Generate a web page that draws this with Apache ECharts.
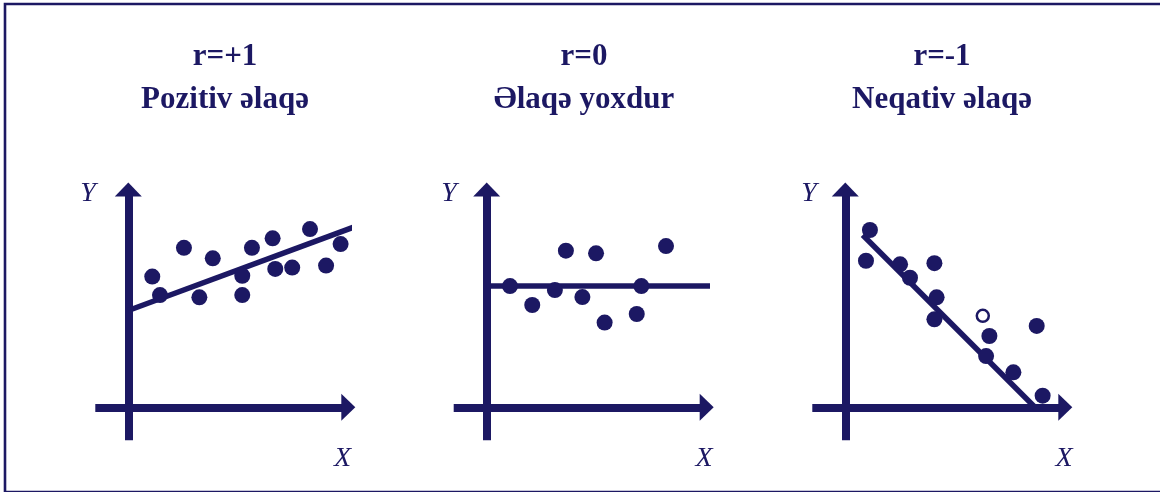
<!DOCTYPE html>
<html><head><meta charset="utf-8">
<script src="https://cdn.jsdelivr.net/npm/echarts@6/dist/echarts.min.js"></script>
<style>html,body{margin:0;padding:0;background:#fff}#c{width:1160px;height:492px}</style>
</head><body><div id="c"></div>
<script>
// ---- data (units: arbitrary scale, origin at axis crossing) ----
const titles = ['r=+1', 'r=0', 'r=-1'];
const subtitles = ['Pozitiv əlaqə', 'Əlaqə yoxdur', 'Neqativ əlaqə'];
const axisNameX = 'X';
const axisNameY = 'Y';

const positivePoints = [[1.09,5.94],[1.44,5.10],[2.53,7.25],[3.23,5.00],[3.84,6.77],[5.18,5.98],[5.18,5.10],
  [5.62,7.25],[6.56,7.68],[6.68,6.29],[7.45,6.35],[8.26,8.10],[8.99,6.44],[9.65,7.42]];
const positiveLine = [[0,4.40],[10.3,8.21]];

const nonePoints = [[1.06,5.51],[2.07,4.65],[3.10,5.33],[3.60,7.12],[4.35,5.01],[4.97,7.00],[5.36,3.85],
  [6.82,4.24],[7.03,5.51],[8.15,7.33]];
const noneLine = [[0,5.51],[10.3,5.51]];

const negativePoints = [[1.12,8.06],[0.94,6.66],[2.49,6.50],[2.94,5.89],[4.05,6.55],[4.15,5.00],[4.05,4.00],
  [6.55,3.24],[6.40,2.33],[7.64,1.59],[8.70,3.70],[8.97,0.53]];
const negativeOpen = [[6.25,4.16]];
const negativeLine = [[0.79,7.83],[8.62,0]];

// ---- layout / style ----
const NAVY = '#1c1863';
const PX = 22;               // pixels per unit
const originsX = [128.3, 486.7, 845.3];
const originY = 407.3;
const XMIN = -1.5, XMAX = 10, YMIN = -1.5, YMAX = 9.9;
const titleCx = [225, 584, 942];
const yLabelCx = [88, 449, 809];
const xLabelCx = [342.5, 704, 1064];

const grids = [], xAxes = [], yAxes = [];
originsX.forEach((ox, i) => {
  grids.push({left: ox - (-XMIN) * PX, top: originY - YMAX * PX,
    width: (XMAX - XMIN) * PX, height: (YMAX - YMIN) * PX, containLabel: false});
  const axisCommon = {
    type: 'value', gridIndex: i,
    axisLine: {show: true, onZero: true, symbol: ['none', 'triangle'], symbolSize: [27, 14],
      lineStyle: {color: NAVY, width: 8, cap: 'butt'}},
    axisTick: {show: false}, axisLabel: {show: false}, splitLine: {show: false}
  };
  xAxes.push(Object.assign({min: XMIN, max: XMAX}, axisCommon));
  yAxes.push(Object.assign({min: YMIN, max: YMAX}, axisCommon));
});

function lineSeries(data, i) {
  return {type: 'line', xAxisIndex: i, yAxisIndex: i, data: data, symbol: 'none', clip: false,
    lineStyle: {color: NAVY, width: 5.5, cap: 'butt'}, z: 3};
}
function dotSeries(data, i) {
  return {type: 'scatter', xAxisIndex: i, yAxisIndex: i, data: data, symbolSize: 16,
    itemStyle: {color: NAVY, opacity: 1}, z: 4};
}

const series = [
  lineSeries(positiveLine, 0), dotSeries(positivePoints, 0),
  lineSeries(noneLine, 1), dotSeries(nonePoints, 1),
  lineSeries(negativeLine, 2), dotSeries(negativePoints, 2),
  {type: 'scatter', xAxisIndex: 2, yAxisIndex: 2, data: negativeOpen, symbolSize: 12,
    itemStyle: {color: '#ffffff', borderColor: NAVY, borderWidth: 2.5, opacity: 1}, z: 5}
];

const graphic = [
  {type: 'rect', shape: {x: 5, y: 4, width: 1170, height: 488},
    style: {fill: 'none', stroke: NAVY, lineWidth: 2.6}, silent: true}
];
titles.forEach((t, i) => {
  graphic.push({type: 'text', x: titleCx[i], y: 56.5,
    style: {text: t, fill: NAVY, font: 'bold 31px "Liberation Serif", serif', align: 'center', verticalAlign: 'middle'}});
  graphic.push({type: 'text', x: titleCx[i], y: 99.5,
    style: {text: subtitles[i], fill: NAVY, font: 'bold 31px "Liberation Serif", serif', align: 'center', verticalAlign: 'middle'}});
  graphic.push({type: 'text', x: yLabelCx[i], y: 193.5,
    style: {text: axisNameY, fill: NAVY, font: 'italic 28px "Liberation Serif", serif', align: 'center', verticalAlign: 'middle'}});
  graphic.push({type: 'text', x: xLabelCx[i], y: 459,
    style: {text: axisNameX, fill: NAVY, font: 'italic 28px "Liberation Serif", serif', align: 'center', verticalAlign: 'middle'}});
});

const chart = echarts.init(document.getElementById('c'), null, {renderer: 'canvas'});
chart.setOption({
  backgroundColor: '#ffffff',
  animation: false,
  grid: grids, xAxis: xAxes, yAxis: yAxes,
  series: series,
  graphic: graphic
});
</script>
</body></html>
